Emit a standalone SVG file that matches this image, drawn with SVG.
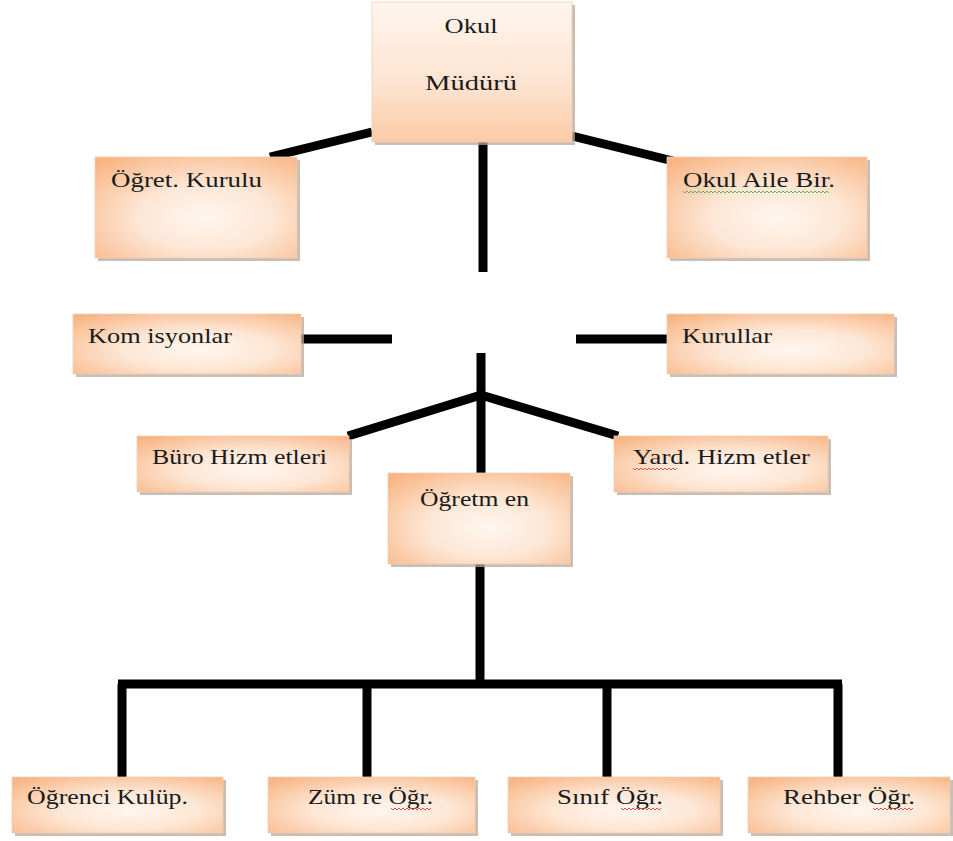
<svg xmlns="http://www.w3.org/2000/svg" width="953" height="841" viewBox="0 0 953 841">
<defs>
<radialGradient id="peach" cx="0.55" cy="0.6" r="0.75">
<stop offset="0" stop-color="#fff6ef"/>
<stop offset="0.45" stop-color="#fde6d4"/>
<stop offset="1" stop-color="#f8b584"/>
</radialGradient>
<linearGradient id="peachV" x1="0" y1="0" x2="0" y2="1">
<stop offset="0" stop-color="#fff5ee"/>
<stop offset="0.6" stop-color="#fde3cf"/>
<stop offset="1" stop-color="#fbcaa6"/>
</linearGradient>
<style>
.box{fill:url(#peach);stroke:#efcfb6;stroke-width:0.8}
.boxv{fill:url(#peachV);stroke:#efcfb6;stroke-width:0.8}
.sh{fill:#b7a79b;opacity:0.75}
.t{font-family:"Liberation Serif","DejaVu Serif",serif;font-size:21px;fill:#1a1a1a}
.ln{stroke:#000;stroke-width:9;fill:none;stroke-linecap:butt}
.wg{stroke:#5cb85c;stroke-width:1;fill:none}
.wr{stroke:#d9534f;stroke-width:1;fill:none}
</style>
</defs>
<rect width="953" height="841" fill="#fff"/>

<g id="connectors">
<line class="ln" x1="372" y1="132" x2="270" y2="157"/>
<line class="ln" x1="572" y1="136" x2="673" y2="161"/>
<line class="ln" x1="483" y1="138" x2="483" y2="272"/>
<line class="ln" x1="299" y1="339" x2="392" y2="339"/>
<line class="ln" x1="576" y1="339" x2="668" y2="339"/>
<line class="ln" x1="481" y1="353" x2="481" y2="473"/>
<line class="ln" x1="481" y1="395" x2="348" y2="436"/>
<line class="ln" x1="481" y1="395" x2="618" y2="436"/>
<line class="ln" x1="480" y1="564" x2="480" y2="684"/>
<line class="ln" x1="118" y1="684" x2="842" y2="684"/>
<line class="ln" x1="122" y1="684" x2="122" y2="777"/>
<line class="ln" x1="367" y1="684" x2="367" y2="777"/>
<line class="ln" x1="607" y1="684" x2="607" y2="777"/>
<line class="ln" x1="838" y1="684" x2="838" y2="777"/>
</g>

<g id="okul-muduru">
<rect class="sh" x="375" y="5" width="200" height="140"/>
<rect class="boxv" x="372" y="2" width="200" height="140"/>
<text class="t" x="471" y="33" text-anchor="middle" textLength="53" lengthAdjust="spacingAndGlyphs">Okul</text>
<text class="t" x="471" y="90" text-anchor="middle" textLength="92" lengthAdjust="spacingAndGlyphs">Müdürü</text>
</g>

<g id="ogret-kurulu">
<rect class="sh" x="98" y="160" width="202" height="101"/>
<rect class="box" x="95" y="157" width="202" height="101"/>
<text class="t" x="111" y="187" textLength="151" lengthAdjust="spacingAndGlyphs">Öğret. Kurulu</text>
</g>

<g id="okul-aile-bir">
<rect class="sh" x="670" y="160" width="200" height="101"/>
<rect class="box" x="667" y="157" width="200" height="101"/>
<text class="t" x="683" y="187" textLength="152" lengthAdjust="spacingAndGlyphs">Okul Aile Bir.</text>
<path class="wg" d="M683 191 l2 2 l2 -2 l2 2 l2 -2 l2 2 l2 -2 l2 2 l2 -2 l2 2 l2 -2 l2 2 l2 -2 l2 2 l2 -2 l2 2 l2 -2 l2 2 l2 -2 l2 2 l2 -2 l2 2 l2 -2 l2 2 l2 -2 l2 2 l2 -2 l2 2 l2 -2 l2 2 l2 -2 l2 2 l2 -2 l2 2 l2 -2 l2 2 l2 -2 l2 2 l2 -2 l2 2 l2 -2 l2 2 l2 -2 l2 2 l2 -2 l2 2 l2 -2 l2 2 l2 -2 l2 2 l2 -2 l2 2 l2 -2 l2 2 l2 -2 l2 2 l2 -2 l2 2 l2 -2 l2 2 l2 -2 l2 2 l2 -2 l2 2 l2 -2 l2 2 l2 -2 l2 2 l2 -2 l2 2 l2 -2 l2 2 l2 -2 l2 2"/>
</g>

<g id="komisyonlar">
<rect class="sh" x="76" y="317" width="228" height="60"/>
<rect class="box" x="73" y="314" width="228" height="60"/>
<text class="t" x="88" y="343" textLength="144" lengthAdjust="spacingAndGlyphs">Kom isyonlar</text>
</g>

<g id="kurullar">
<rect class="sh" x="670" y="317" width="227" height="60"/>
<rect class="box" x="667" y="314" width="227" height="60"/>
<text class="t" x="682" y="343" textLength="90" lengthAdjust="spacingAndGlyphs">Kurullar</text>
</g>

<g id="buro-hizmetleri">
<rect class="sh" x="140" y="439" width="212" height="56"/>
<rect class="box" x="137" y="436" width="212" height="56"/>
<text class="t" x="152" y="464" textLength="175" lengthAdjust="spacingAndGlyphs">Büro Hizm etleri</text>
</g>

<g id="yard-hizmetler">
<rect class="sh" x="617" y="439" width="214" height="56"/>
<rect class="box" x="614" y="436" width="214" height="56"/>
<text class="t" x="633" y="464" textLength="177" lengthAdjust="spacingAndGlyphs">Yard. Hizm etler</text>
<path class="wr" d="M633 468 l2 2 l2 -2 l2 2 l2 -2 l2 2 l2 -2 l2 2 l2 -2 l2 2 l2 -2 l2 2 l2 -2 l2 2 l2 -2 l2 2 l2 -2 l2 2 l2 -2 l2 2 l2 -2 l2 2 l2 -2"/>
</g>

<g id="ogretmen">
<rect class="sh" x="391" y="476" width="182" height="91"/>
<rect class="box" x="388" y="473" width="182" height="91"/>
<text class="t" x="420" y="506" textLength="109" lengthAdjust="spacingAndGlyphs">Öğretm en</text>
</g>

<g id="ogrenci-kulup">
<rect class="sh" x="15" y="780" width="211" height="56"/>
<rect class="box" x="12" y="777" width="211" height="56"/>
<text class="t" x="27" y="804" textLength="161" lengthAdjust="spacingAndGlyphs">Öğrenci Kulüp.</text>
</g>

<g id="zumre-ogr">
<rect class="sh" x="271" y="780" width="207" height="56"/>
<rect class="box" x="268" y="777" width="207" height="56"/>
<text class="t" x="308" y="804" textLength="125" lengthAdjust="spacingAndGlyphs">Züm re Öğr.</text>
<path class="wr" d="M391 808 l2 2 l2 -2 l2 2 l2 -2 l2 2 l2 -2 l2 2 l2 -2 l2 2 l2 -2 l2 2 l2 -2 l2 2 l2 -2 l2 2 l2 -2 l2 2 l2 -2 l2 2 l2 -2"/>
</g>

<g id="sinif-ogr">
<rect class="sh" x="511" y="780" width="212" height="56"/>
<rect class="box" x="508" y="777" width="212" height="56"/>
<text class="t" x="557" y="804" textLength="106" lengthAdjust="spacingAndGlyphs">Sınıf Öğr.</text>
<path class="wr" d="M621 808 l2 2 l2 -2 l2 2 l2 -2 l2 2 l2 -2 l2 2 l2 -2 l2 2 l2 -2 l2 2 l2 -2 l2 2 l2 -2 l2 2 l2 -2 l2 2 l2 -2 l2 2 l2 -2"/>
</g>

<g id="rehber-ogr">
<rect class="sh" x="751" y="780" width="202" height="56"/>
<rect class="box" x="748" y="777" width="202" height="56"/>
<text class="t" x="783" y="804" textLength="132" lengthAdjust="spacingAndGlyphs">Rehber Öğr.</text>
<path class="wr" d="M873 808 l2 2 l2 -2 l2 2 l2 -2 l2 2 l2 -2 l2 2 l2 -2 l2 2 l2 -2 l2 2 l2 -2 l2 2 l2 -2 l2 2 l2 -2 l2 2 l2 -2 l2 2 l2 -2"/>
</g>
</svg>
